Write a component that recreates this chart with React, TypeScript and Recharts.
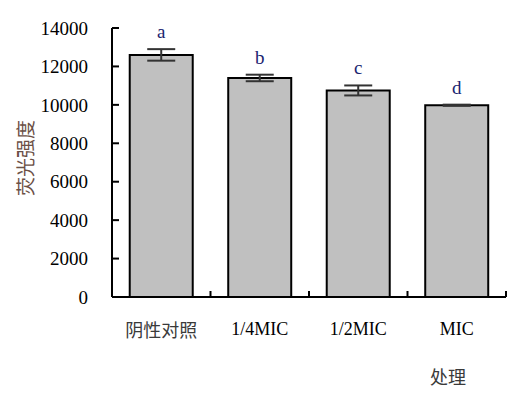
import React from 'react';
import { BarChart, Bar, XAxis, YAxis, ErrorBar, LabelList, Label } from 'recharts';

const categories = ['阴性对照', '1/4MIC', '1/2MIC', 'MIC'];
const means = [12600, 11400, 10750, 9980];
const errors = [300, 170, 260, 30];
const letters = ['a', 'b', 'c', 'd'];
const yTicks = [0, 2000, 4000, 6000, 8000, 10000, 12000, 14000];

const data = categories.map((name, i) => ({
  name,
  value: means[i],
  err: errors[i],
  letter: letters[i],
}));

const W = 524;
const H = 398;
const MARGIN = { top: 28, right: 18, left: 0, bottom: 0 };
const Y_AXIS_W = 112;
const PLOT_W = W - MARGIN.right - MARGIN.left - Y_AXIS_W;

const SERIF = '"Liberation Serif", "Times New Roman", serif';
const CJK = '"Noto Sans CJK SC", sans-serif';
const isCjk = (s: string) => /[\u4e00-\u9fff]/.test(s);

// category label plus an upward tick at the right edge of each band
const CategoryTick = (props: any) => {
  const { x, y, payload } = props;
  const band = PLOT_W / categories.length;
  const text = String(payload.value);
  return (
    <g>
      <line x1={x + band / 2} x2={x + band / 2} y1={y} y2={y - 6} stroke="#000" strokeWidth={2} />
      <text
        x={x}
        y={y + 32}
        textAnchor="middle"
        dominantBaseline="central"
        fontFamily={isCjk(text) ? CJK : SERIF}
        fontSize={18}
        fill={isCjk(text) ? '#3a3a3a' : '#000'}
      >
        {text}
      </text>
    </g>
  );
};

const LetterLabel = (props: any) => {
  const { x, y, width, height, value, index } = props;
  const errPx = means[index] ? (height * errors[index]) / means[index] : 0;
  return (
    <text x={x + width / 2} y={y - errPx - 11} textAnchor="middle" fontFamily={SERIF} fontSize={19} fill="#1a2470">
      {value}
    </text>
  );
};

export default function App() {
  return (
    <div style={{ position: 'absolute', left: 0, top: 0, width: W, height: H, background: '#fff' }}>
      <BarChart width={W} height={H} data={data} margin={MARGIN} barCategoryGap="18%">
        <XAxis
          dataKey="name"
          height={101}
          axisLine={{ stroke: '#000', strokeWidth: 2 }}
          tickLine={false}
          tickSize={0}
          tickMargin={0}
          tick={<CategoryTick />}
          interval={0}
        >
          <Label
            content={() => (
              <text x={448} y={376} textAnchor="middle" dominantBaseline="central" fontFamily={CJK} fontSize={18} fill="#3a3a3a">
                处理
              </text>
            )}
          />
        </XAxis>
        <YAxis
          width={Y_AXIS_W}
          domain={[0, 14000]}
          ticks={yTicks}
          interval={0}
          axisLine={{ stroke: '#000', strokeWidth: 2 }}
          tickLine={{ stroke: '#000', strokeWidth: 2 }}
          tickSize={-7}
          tickMargin={31}
          tick={{ fontFamily: SERIF, fontSize: 19, fill: '#000' }}
        >
          <Label
            content={() => (
              <text
                x={24}
                y={158}
                textAnchor="middle"
                dominantBaseline="central"
                transform="rotate(-90 24 158)"
                fontFamily={CJK}
                fontSize={19}
                fill="#6b5046"
              >
                荧光强度
              </text>
            )}
          />
        </YAxis>
        <Bar dataKey="value" fill="#c0c0c0" stroke="#000" strokeWidth={2} isAnimationActive={false}>
          <ErrorBar dataKey="err" width={14} stroke="#333" strokeWidth={2} direction="y" />
          <LabelList dataKey="letter" content={<LetterLabel />} />
        </Bar>
      </BarChart>
    </div>
  );
}
